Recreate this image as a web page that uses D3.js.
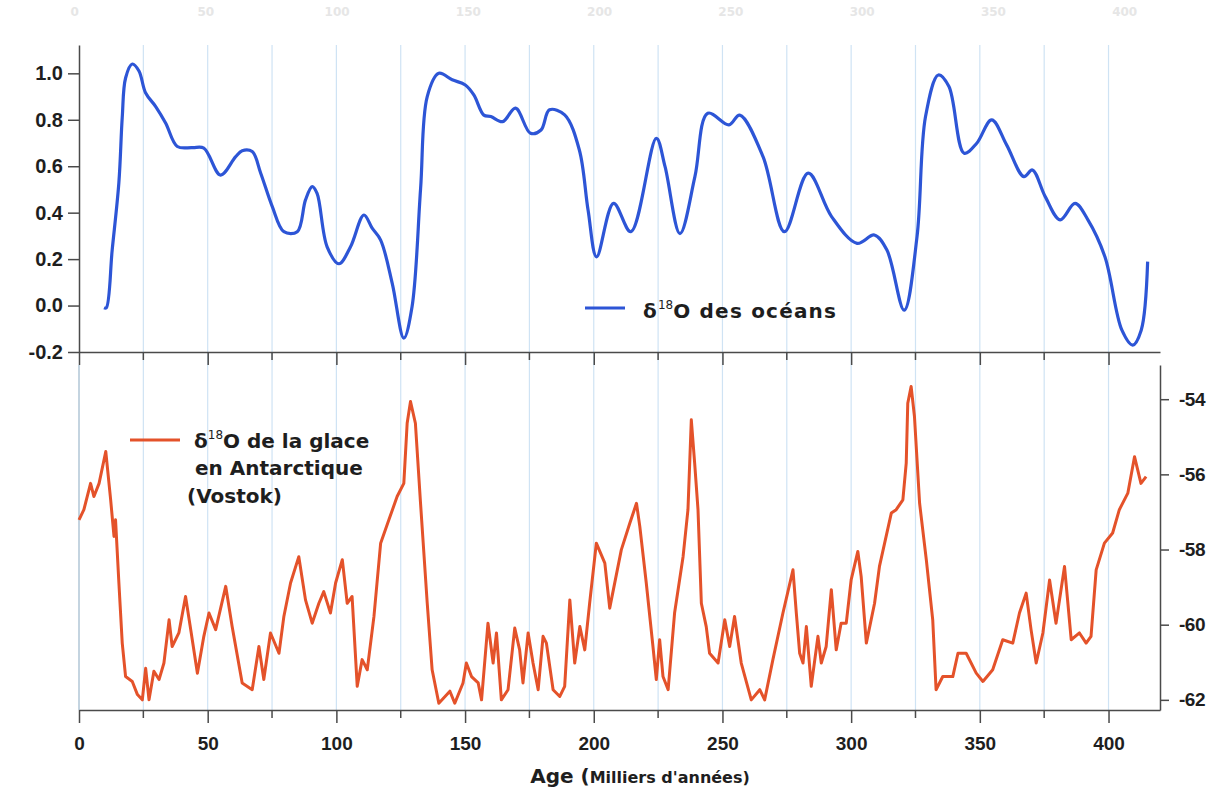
<!DOCTYPE html>
<html>
<head>
<meta charset="utf-8">
<script src="https://cdn.jsdelivr.net/npm/d3@7.9.0/dist/d3.min.js"></script>
<style>
  body { margin: 0; background: #fff; }
  svg { display: block; font-family: "DejaVu Sans", "Liberation Sans", Arial, sans-serif; font-weight: bold; }
</style>
</head>
<body>
<svg id="chart" width="1224" height="791"></svg>
<script>
// ages in thousands of years (ka)
const xTicks = [0, 50, 100, 150, 200, 250, 300, 350, 400];
const xMinorTicks = [25, 75, 125, 175, 225, 275, 325, 375];
const gridAges = [25, 50, 75, 100, 125, 150, 175, 200, 225, 250, 275, 300, 325, 350, 375, 400];
const oceanTicks = [-0.2, 0, 0.2, 0.4, 0.6, 0.8, 1.0];
const iceTicks = [-62, -60, -58, -56, -54];

// δ18O des océans (benthic stack)
const oceanAge = [9.7, 10.6, 12.9, 15.5, 16.8, 18.1, 20.7, 23.3, 25.9, 29.8, 33.7, 38.2, 44, 48.5,
  55, 60.8, 63.4, 67.3, 70.6, 75.1, 79.6, 84.8, 88, 90.6, 92.5, 96.4, 101, 105.5, 110.7, 113.9,
  117.2, 121.7, 126.2, 129.4, 132.7, 135.3, 139.8, 145, 150.1, 153.4, 157.3, 160, 164.6, 169.6,
  175.4, 179.5, 182.8, 188.7, 194.4, 197.8, 201.1, 207.7, 214.4, 224.3, 227.7, 233.5, 239.3,
  244.3, 252.5, 256.7, 265.8, 274.1, 283.3, 292.4, 302.3, 309, 313.9, 320.6, 325.6, 328.9,
  333.9, 338, 343.9, 348.8, 354.6, 360.4, 367.1, 370.4, 375.4, 381.2, 387, 392, 398.6, 405.2,
  409.4, 412.7, 415.2];
const oceanD18O = [-0.01, -0.01, 0.24, 0.53, 0.81, 0.98, 1.04, 1.01, 0.915, 0.857, 0.785, 0.685, 0.68, 0.678,
  0.562, 0.64, 0.667, 0.663, 0.57, 0.426, 0.318, 0.318, 0.455, 0.512, 0.483, 0.253, 0.18, 0.253, 0.39, 0.333,
  0.282, 0.096, -0.14, -0.005, 0.5, 0.9, 1.0, 0.972, 0.95, 0.907, 0.82, 0.814, 0.792, 0.85,
  0.742, 0.756, 0.843, 0.821, 0.67, 0.41, 0.21, 0.44, 0.318, 0.72, 0.598, 0.31, 0.555,
  0.828, 0.778, 0.82, 0.64, 0.318, 0.57, 0.383, 0.268, 0.304, 0.239, -0.02, 0.297, 0.814,
  0.993, 0.943, 0.656, 0.699, 0.8, 0.692, 0.555, 0.584, 0.469, 0.369, 0.44, 0.369, 0.21, -0.106,
  -0.17, -0.106, 0.189];

// δ18O de la glace, Vostok
const iceAge = [0, 1.9, 4.5, 5.8, 7.8, 10.4, 12.3, 13.6, 14.2, 15.5, 16.8, 18.1, 20.7, 22.7, 24.6,
  25.9, 27.2, 29.1, 31.1, 33, 35, 36.2, 38.8, 41.4, 43.4, 46, 48.5, 50.5, 53.1, 57, 59.5, 63.4,
  67.3, 69.9, 71.8, 74.4, 77.7, 79.6, 82.2, 85.4, 88, 90.6, 93.2, 95.1, 97.7, 99.7, 102.3, 104.2,
  106.1, 108.1, 110, 112, 114.6, 117.2, 120.4, 123.6, 126.2, 127.5, 128.8, 130.7, 132.7, 135.3,
  137.2, 139.8, 144.1, 146, 149.2, 150.5, 152.5, 155.1, 156.4, 158.9, 160.9, 162.2, 164.1, 166.7,
  169.3, 171.2, 172.5, 174.5, 176.4, 178.4, 180.3, 181.6, 184.2, 186.8, 188.7, 190.7, 192.6, 194.6,
  196.5, 198.4, 201, 204.3, 206.2, 210.7, 214, 216.6, 217.9, 220.4, 223, 224.3, 225.6, 226.9,
  228.9, 231.4, 234.7, 236.6, 237.9, 239.2, 240.5, 241.8, 243.7, 245, 248.3, 250.9, 252.8, 254.7,
  257.3, 261.2, 264.5, 266.4, 269.6, 273.5, 277.4, 278.7, 280, 281.3, 282.6, 284.5, 287.1, 288.4,
  290.3, 292.3, 294.2, 296.1, 298.1, 300, 302.6, 303.9, 305.9, 309.1, 311, 315.6, 317.5, 320.1,
  321.4, 322, 323.3, 324.6, 326.6, 329.2, 331.7, 333, 335.6, 339.5, 341.5, 344.7, 348.6, 351.2,
  355, 358.9, 362.8, 365.4, 368, 369.9, 371.9, 374.5, 377.1, 379.6, 382.9, 385.5, 388.7, 391.3,
  393.2, 395.2, 398.4, 401.6, 404.2, 407.5, 410.1, 412.6, 414.6];
const iceD18O = [-57.21, -56.94, -56.24, -56.59, -56.24, -55.39, -56.68, -57.65, -57.21, -58.89, -60.49, -61.38, -61.51, -61.86, -62,
  -61.16, -62, -61.24, -61.46, -61.02, -59.87, -60.58, -60.22, -59.25, -60.13, -61.29, -60.31, -59.69, -60.13, -58.98, -60.05, -61.55,
  -61.73, -60.58, -61.46, -60.22, -60.76, -59.78, -58.89, -58.19, -59.34, -59.96, -59.43, -59.12, -59.69, -58.89, -58.27, -59.43,
  -59.25, -61.64, -60.93, -61.2, -59.78, -57.83, -57.21, -56.59, -56.24, -54.64, -54.06, -54.64, -56.77, -59.43,
  -61.2, -62.09, -61.77, -62.09, -61.55, -61.02, -61.38, -61.55, -62, -59.96, -61.02, -60.22, -62, -61.73,
  -60.09, -60.67, -61.55, -60.22, -61.02, -61.73, -60.31, -60.49, -61.73, -61.91, -61.64, -59.34, -61.02, -60.05,
  -60.67, -59.43, -57.83, -58.36, -59.56, -58.01, -57.3, -56.77, -57.39, -58.89, -60.58, -61.46, -60.4, -61.38,
  -61.73, -59.69, -58.19, -56.94, -54.55, -55.7, -56.94, -59.43, -60.05, -60.76, -61.02, -59.87, -60.58, -59.78,
  -61.02, -62, -61.73, -62, -60.93, -59.69, -58.54, -59.69, -60.76, -61.02, -60.05, -61.64, -60.31, -61.02,
  -60.58, -59.07, -60.67, -59.96, -59.96, -58.81, -58.05, -58.72, -60.49, -59.43, -58.45, -57.03, -56.94, -56.68,
  -55.7, -54.11, -53.66, -54.46, -56.77, -58.27, -59.87, -61.73, -61.38, -61.38, -60.76, -60.76, -61.29, -61.51,
  -61.2, -60.4, -60.49, -59.69, -59.16, -60.13, -61.02, -60.22, -58.81, -59.96, -58.45, -60.4, -60.22, -60.49,
  -60.31, -58.54, -57.83, -57.56, -56.94, -56.5, -55.53, -56.24, -56.06];

const svg = d3.select("#chart");

const left = 79, right = 1160;
const top1 = 45, bottom1 = 352;
const top2 = 365, bottom2 = 710;

const x = d3.scaleLinear().domain([0, 420]).range([left, right]);
const yOcean = d3.scaleLinear().domain([-0.2, 1.122]).range([bottom1, top1]);
const yIce = d3.scaleLinear().domain([-62.27, -53.09]).range([bottom2, top2]);

const axisColor = "#4a4a4a";
const textColor = "#1e1e1e";
const blue = "#2d55d6";
const red = "#e4522a";

// faint labels left over at the very top of the picture
svg.append("g").selectAll("text")
  .data(xTicks)
  .join("text")
  .attr("x", d => x(d) * 1.02 - 6)
  .attr("y", 16)
  .attr("text-anchor", "middle")
  .style("font-size", "12px")
  .attr("fill", "#e6e6e6")
  .text(d => d);

// vertical grid lines, both panels
svg.append("g").selectAll("line")
  .data(gridAges)
  .join("line")
  .attr("x1", d => x(d)).attr("x2", d => x(d))
  .attr("y1", top1).attr("y2", bottom2)
  .attr("stroke", "#cfe3f4")
  .attr("stroke-width", 1.2);

// left edge of lower panel
svg.append("line")
  .attr("x1", left).attr("x2", left)
  .attr("y1", top2).attr("y2", bottom2)
  .attr("stroke", "#9db7cc")
  .attr("stroke-width", 1.2);

// ---- top panel: ocean
const oceanData = oceanAge.map((a, i) => ({ age: a, v: oceanD18O[i] }));

const yAxisL = svg.append("g")
  .attr("transform", `translate(${left},0)`)
  .call(d3.axisLeft(yOcean).tickValues(oceanTicks).tickSize(11).tickPadding(5).tickSizeOuter(0)
    .tickFormat(d => d.toFixed(1)));
yAxisL.select(".domain").attr("stroke", axisColor).attr("stroke-width", 1.5);
yAxisL.selectAll(".tick line").attr("stroke", axisColor).attr("stroke-width", 1.5);
yAxisL.selectAll("text").style("font-size", "20px").attr("fill", textColor);

const xAxisTop = svg.append("g")
  .attr("transform", `translate(0,${bottom1})`)
  .call(d3.axisBottom(x).tickValues(xTicks).tickSize(13).tickSizeOuter(0).tickFormat(""));
xAxisTop.select(".domain").attr("stroke", axisColor).attr("stroke-width", 1.5);
xAxisTop.selectAll(".tick line").attr("stroke", axisColor).attr("stroke-width", 1.5);
svg.append("g").selectAll("line")
  .data(xMinorTicks)
  .join("line")
  .attr("x1", d => x(d)).attr("x2", d => x(d))
  .attr("y1", bottom1).attr("y2", bottom1 + 8)
  .attr("stroke", axisColor).attr("stroke-width", 1.5);

const oceanLine = d3.line()
  .x(d => x(d.age))
  .y(d => yOcean(d.v))
  .curve(d3.curveCatmullRom.alpha(0.5));

svg.append("path")
  .datum(oceanData)
  .attr("fill", "none")
  .attr("stroke", blue)
  .attr("stroke-width", 3.2)
  .attr("stroke-linejoin", "round")
  .attr("d", oceanLine);

// legend ocean
svg.append("line")
  .attr("x1", 585).attr("x2", 625)
  .attr("y1", 308).attr("y2", 308)
  .attr("stroke", blue).attr("stroke-width", 3);
const legO = svg.append("text")
  .attr("x", 643).attr("y", 318)
  .style("font-size", "20px")
  .style("letter-spacing", "1.2px")
  .attr("fill", textColor);
legO.append("tspan").text("δ");
legO.append("tspan").attr("dy", -9).style("font-size", "12px").style("font-weight", "normal").style("letter-spacing", "0px").text("18");
legO.append("tspan").attr("dy", 9).text("O  des océans");

// ---- bottom panel: Vostok ice
const iceData = iceAge.map((a, i) => ({ age: a, v: iceD18O[i] }));

const yAxisR = svg.append("g")
  .attr("transform", `translate(${right},0)`)
  .call(d3.axisRight(yIce).tickValues(iceTicks).tickSize(9).tickPadding(10).tickSizeOuter(0)
    .tickFormat(d => String(d)));
yAxisR.select(".domain").attr("stroke", axisColor).attr("stroke-width", 1.5);
yAxisR.selectAll(".tick line").attr("stroke", axisColor).attr("stroke-width", 1.5);
yAxisR.selectAll("text").style("font-size", "19px").style("letter-spacing", "-0.5px").attr("fill", textColor);

const xAxis = svg.append("g")
  .attr("transform", `translate(0,${bottom2})`)
  .call(d3.axisBottom(x).tickValues(xTicks).tickSize(13).tickPadding(14).tickSizeOuter(0));
xAxis.select(".domain").attr("stroke", axisColor).attr("stroke-width", 1.5);
xAxis.selectAll(".tick line").attr("stroke", axisColor).attr("stroke-width", 1.5);
xAxis.selectAll("text").style("font-size", "19px").attr("fill", textColor);
svg.append("g").selectAll("line")
  .data(xMinorTicks)
  .join("line")
  .attr("x1", d => x(d)).attr("x2", d => x(d))
  .attr("y1", bottom2).attr("y2", bottom2 + 8)
  .attr("stroke", axisColor).attr("stroke-width", 1.5);

const iceLine = d3.line()
  .x(d => x(d.age))
  .y(d => yIce(d.v));

svg.append("path")
  .datum(iceData)
  .attr("fill", "none")
  .attr("stroke", red)
  .attr("stroke-width", 3)
  .attr("stroke-linejoin", "round")
  .attr("d", iceLine);

// legend ice
svg.append("line")
  .attr("x1", 130).attr("x2", 180)
  .attr("y1", 440).attr("y2", 440)
  .attr("stroke", red).attr("stroke-width", 3);
const legI = svg.append("text")
  .attr("x", 194).attr("y", 448)
  .style("font-size", "20px")
  .attr("fill", textColor);
legI.append("tspan").text("δ");
legI.append("tspan").attr("dy", -9).style("font-size", "12px").style("font-weight", "normal").text("18");
legI.append("tspan").attr("dy", 9).text("O de la glace");
svg.append("text")
  .attr("x", 195).attr("y", 475)
  .style("font-size", "20px").attr("fill", textColor)
  .text("en Antarctique");
svg.append("text")
  .attr("x", 187).attr("y", 503)
  .style("font-size", "20px").attr("fill", textColor)
  .text("(Vostok)");

// x axis title
const xt = svg.append("text")
  .attr("x", 640).attr("y", 783)
  .attr("text-anchor", "middle")
  .attr("fill", textColor);
xt.append("tspan").style("font-size", "20px").text("Age (");
xt.append("tspan").style("font-size", "16px").text("Milliers d'années)");
</script>
</body>
</html>
